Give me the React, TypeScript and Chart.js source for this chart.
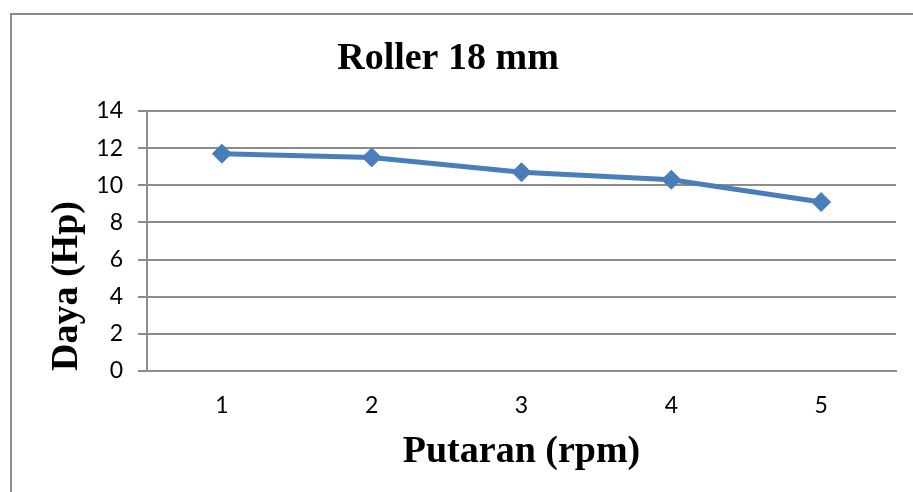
import React, { useEffect, useRef } from "react";
import { Chart, registerables } from "chart.js";

Chart.register(...registerables);

const categories: string[] = ["1", "2", "3", "4", "5"];
const dayaValues: number[] = [11.7, 11.5, 10.7, 10.3, 9.1];
const chartTitle = "Roller 18 mm";
const xTitle = "Putaran (rpm)";
const yTitle = "Daya (Hp)";

const SERIF = "'Times New Roman', 'Liberation Serif', serif";
const SANS = "Lato, 'Open Sans', sans-serif";
const GRID = "#8c8c8c";
const LINE = "#4a7ebb";

const framePlugin = {
  id: "frame",
  beforeDraw(chart: any) {
    const ctx = chart.ctx;
    ctx.save();
    ctx.strokeStyle = GRID;
    ctx.lineWidth = 2;
    ctx.strokeRect(11, 14, 1200, 1200);
    ctx.restore();
  },
};

export default function App() {
  const ref = useRef<HTMLCanvasElement | null>(null);
  useEffect(() => {
    if (!ref.current) return;
    const chart = new Chart(ref.current, {
      type: "line",
      data: {
        labels: categories,
        datasets: [
          {
            label: "Daya",
            data: dayaValues,
            borderColor: LINE,
            backgroundColor: LINE,
            borderWidth: 5,
            pointStyle: "rectRot",
            pointRadius: 9.5,
            pointBorderWidth: 1,
            pointBackgroundColor: LINE,
            pointBorderColor: LINE,
            tension: 0,
          },
        ],
      },
      options: {
        responsive: false,
        animation: false,
        devicePixelRatio: 1,
        layout: { padding: { left: 0, right: 17, top: 0, bottom: 0 } },
        plugins: {
          legend: { display: false },
          tooltip: { enabled: false },
          title: {
            display: true,
            text: chartTitle,
            color: "#000",
            font: { family: SERIF, size: 38, weight: "bold" },
            padding: { top: 36, bottom: 29.4 },
          },
        },
        scales: {
          x: {
            type: "category",
            offset: true,
            grid: { display: false, drawTicks: false },
            border: { display: true, color: GRID, width: 2 },
            ticks: {
              color: "#000",
              font: { family: SANS, size: 23 },
              padding: 21,
            },
            title: {
              display: true,
              text: xTitle,
              color: "#000",
              font: { family: SERIF, size: 38, weight: "bold" },
              padding: { top: 0, bottom: 17 },
            },
            afterFit(scale: any) {
              scale.height = 121;
            },
          },
          y: {
            min: 0,
            max: 14,
            grid: {
              color: GRID,
              lineWidth: 2,
              drawTicks: true,
              tickLength: 9,
            },
            border: { display: true, color: GRID, width: 2 },
            ticks: {
              stepSize: 2,
              color: "#000",
              font: { family: SANS, size: 23 },
              padding: 15,
            },
            title: {
              display: true,
              text: yTitle,
              align: "start",
              color: "#000",
              font: { family: SERIF, size: 38, weight: "bold" },
              padding: { top: 44, bottom: 0 },
            },
            afterFit(scale: any) {
              scale.width = 147;
            },
          },
        },
      },
      plugins: [framePlugin],
    } as any);
    return () => chart.destroy();
  }, []);
  return (
    <div style={{ position: "absolute", left: 0, top: 0, width: 913, height: 492, background: "#fff" }}>
      <canvas ref={ref} width={913} height={492} style={{ display: "block" }} />
    </div>
  );
}
